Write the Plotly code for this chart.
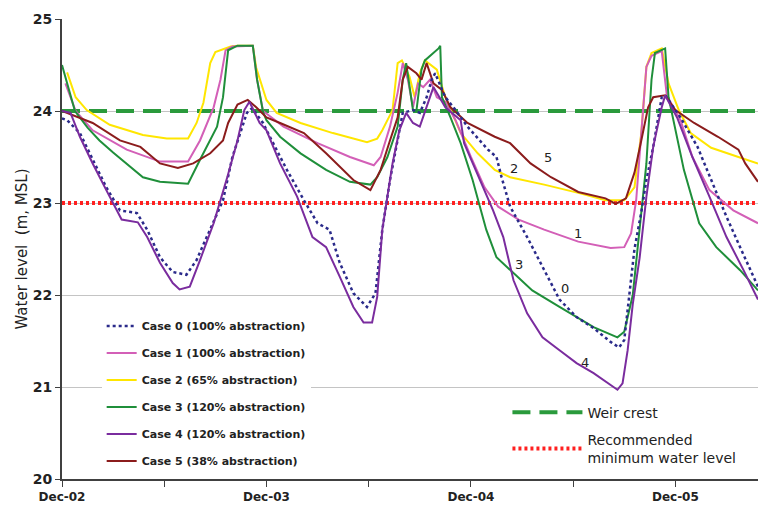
import plotly.graph_objects as go

# months since Dec-2002
c0_m = [0, 0.3, 1.05, 1.8, 2.6, 3.4, 4.4, 5.0, 5.75, 6.5, 7.3, 7.9, 8.7, 9.45, 10.0, 10.85, 11.15, 11.8, 12.2, 13.2, 14.2, 15.0, 15.7, 16.3, 17.1, 17.9, 18.4, 18.8, 19.25, 19.7, 20.0, 20.6, 21.0, 21.4, 21.7, 21.9, 22.5, 23.1, 23.8, 25.0, 25.5, 25.8, 26.3, 27.3, 28.2, 29.2, 30.2, 31.2, 32.2, 32.7, 33.0, 33.3, 33.6, 34.0, 34.3, 34.7, 35.2, 35.4, 36.3, 37.3, 38.2, 39.0, 39.8, 40.85]
c0_v = [23.92, 23.9, 23.76, 23.47, 23.17, 22.92, 22.89, 22.71, 22.41, 22.25, 22.22, 22.38, 22.71, 23.03, 23.5, 23.98, 24.03, 23.87, 23.72, 23.36, 23.03, 22.78, 22.71, 22.35, 22.02, 21.87, 22.02, 22.71, 23.25, 23.68, 23.98, 24.01, 23.98, 24.15, 24.34, 24.41, 24.15, 24.01, 23.83, 23.58, 23.5, 23.28, 22.96, 22.63, 22.3, 21.95, 21.76, 21.64, 21.49, 21.43, 21.51, 21.98, 22.5, 22.9, 23.25, 23.61, 24.15, 24.17, 23.93, 23.61, 23.21, 22.85, 22.52, 22.09]

c1_m = [0.2, 0.8, 1.8, 3.8, 5.75, 7.4, 8.1, 8.9, 9.3, 9.6, 10.0, 11.2, 11.45, 11.8, 13.0, 15.0, 16.9, 18.3, 18.7, 19.25, 19.7, 20.0, 20.3, 20.6, 20.9, 21.2, 21.6, 22.0, 22.5, 23.1, 24.0, 24.8, 25.6, 26.8, 28.3, 30.3, 32.2, 33.0, 33.4, 33.7, 34.0, 34.3, 34.6, 35.2, 35.5, 36.3, 37.0, 38.0, 39.4, 40.85]
c1_v = [24.3, 24.0, 23.79, 23.58, 23.45, 23.45, 23.68, 24.04, 24.34, 24.66, 24.7, 24.71, 24.34, 24.0, 23.83, 23.65, 23.5, 23.41, 23.5, 23.83, 24.2, 24.52, 24.34, 24.04, 24.3, 24.26, 24.34, 24.15, 24.1, 23.9, 23.5, 23.17, 22.96, 22.82, 22.71, 22.58, 22.51, 22.52, 22.67, 23.03, 23.76, 24.48, 24.6, 24.65, 24.17, 23.9, 23.5, 23.14, 22.92, 22.78]

c2_m = [0.3, 0.8, 1.45, 2.8, 4.75, 6.15, 7.4, 7.9, 8.3, 8.7, 9.0, 9.9, 10.3, 11.2, 11.4, 12.0, 12.6, 14.0, 15.9, 17.9, 18.5, 18.8, 19.4, 19.7, 19.95, 20.4, 20.7, 21.0, 21.3, 22.0, 22.5, 23.4, 24.4, 25.4, 26.3, 28.3, 30.3, 31.9, 33.0, 33.6, 34.0, 34.3, 34.6, 35.2, 35.6, 36.2, 36.9, 38.1, 39.7, 40.85]
c2_v = [24.42, 24.15, 24.01, 23.85, 23.74, 23.7, 23.7, 23.87, 24.09, 24.52, 24.64, 24.7, 24.71, 24.71, 24.47, 24.12, 23.98, 23.87, 23.76, 23.66, 23.7, 23.79, 24.01, 24.52, 24.55, 24.37, 24.15, 24.41, 24.55, 24.45, 24.15, 23.76, 23.54, 23.36, 23.28, 23.2, 23.11, 23.03, 23.03, 23.17, 23.76, 24.48, 24.63, 24.68, 24.3, 24.01, 23.76, 23.6, 23.5, 23.43]

c3_m = [0, 0.3, 0.76, 1.5, 2.2, 3.0, 3.8, 4.75, 5.75, 6.5, 7.4, 8.1, 8.6, 9.1, 9.45, 9.75, 10.3, 11.2, 11.45, 11.8, 12.0, 12.8, 14.0, 15.5, 16.9, 18.1, 18.5, 19.1, 19.7, 20.0, 20.2, 20.6, 20.8, 21.1, 21.3, 22.1, 22.2, 22.3, 22.8, 23.4, 24.1, 24.9, 25.5, 26.3, 27.6, 29.2, 31.2, 32.6, 33.0, 33.5, 33.9, 34.3, 34.6, 34.8, 35.4, 35.6, 36.5, 37.4, 38.4, 39.8, 40.85]
c3_v = [24.5, 24.3, 24.0, 23.82, 23.68, 23.55, 23.43, 23.28, 23.23, 23.22, 23.21, 23.47, 23.65, 23.83, 24.15, 24.66, 24.71, 24.71, 24.34, 23.99, 23.9, 23.72, 23.54, 23.36, 23.23, 23.2, 23.28, 23.5, 23.83, 24.34, 24.52, 24.01, 24.0, 24.45, 24.55, 24.68, 24.71, 24.15, 23.93, 23.65, 23.25, 22.71, 22.41, 22.27, 22.05, 21.87, 21.65, 21.54, 21.6, 22.0, 22.7, 23.43, 24.34, 24.63, 24.68, 24.15, 23.36, 22.78, 22.52, 22.27, 22.05]

c4_m = [0, 0.5, 1.05, 1.8, 2.6, 3.5, 4.45, 5.0, 5.75, 6.5, 6.9, 7.5, 8.1, 8.9, 9.7, 10.3, 10.7, 11.0, 11.6, 12.0, 12.8, 13.8, 14.7, 15.5, 16.3, 17.1, 17.7, 18.2, 18.5, 18.8, 19.4, 19.8, 20.2, 20.6, 21.0, 21.4, 21.8, 22.5, 23.4, 23.6, 24.4, 25.3, 25.9, 26.5, 27.3, 28.2, 29.2, 30.2, 31.2, 32.0, 32.6, 32.9, 33.2, 33.5, 33.9, 34.3, 34.7, 35.2, 35.4, 36.1, 37.0, 38.0, 39.0, 40.0, 40.85]
c4_v = [24.0, 23.98, 23.72, 23.43, 23.14, 22.82, 22.79, 22.63, 22.35, 22.13, 22.06, 22.09, 22.38, 22.78, 23.28, 23.68, 24.01, 24.1, 23.87, 23.79, 23.43, 23.07, 22.63, 22.52, 22.2, 21.87, 21.7, 21.7, 21.98, 22.71, 23.43, 23.79, 23.98, 23.87, 23.83, 24.04, 24.26, 24.04, 23.9, 23.65, 23.3, 22.92, 22.63, 22.16, 21.8, 21.54, 21.4, 21.26, 21.15, 21.05, 20.97, 21.04, 21.4, 21.9, 22.4, 23.07, 23.61, 24.04, 24.17, 23.93, 23.5, 23.07, 22.63, 22.27, 21.95]

c5_m = [0, 1.8, 3.4, 4.6, 5.75, 6.8, 7.7, 8.7, 9.45, 9.75, 10.3, 10.9, 11.4, 12.0, 12.8, 14.2, 15.5, 17.1, 18.1, 18.7, 19.25, 19.7, 20.0, 20.3, 20.8, 21.1, 21.4, 21.8, 22.3, 22.8, 23.8, 25.4, 26.3, 27.5, 28.7, 30.3, 31.9, 32.5, 33.1, 33.6, 34.0, 34.4, 34.7, 35.4, 36.0, 37.1, 38.5, 39.7, 40.1, 40.85]
c5_v = [24.0, 23.87, 23.68, 23.61, 23.43, 23.38, 23.43, 23.54, 23.68, 23.87, 24.07, 24.12, 24.04, 23.93, 23.87, 23.76, 23.54, 23.25, 23.14, 23.36, 23.68, 23.93, 24.34, 24.48, 24.41, 24.34, 24.52, 24.3, 24.23, 24.04, 23.87, 23.72, 23.65, 23.43, 23.28, 23.12, 23.05, 22.99, 23.05, 23.33, 23.68, 24.04, 24.15, 24.17, 24.01, 23.87, 23.72, 23.58, 23.43, 23.23]

series_names = ["Case 0 (100% abstraction)", "Case 1 (100% abstraction)", "Case 2 (65% abstraction)",
                "Case 3 (120% abstraction)", "Case 4 (120% abstraction)", "Case 5 (38% abstraction)"]
series_colors = ["#2a2a8a", "#d35fb7", "#ffe600", "#1f8f3a", "#7a2c9e", "#8b1c1c"]
series_x = [c0_m, c1_m, c2_m, c3_m, c4_m, c5_m]
series_y = [c0_v, c1_v, c2_v, c3_v, c4_v, c5_v]

weir_level = 24.0
min_level = 23.0
x_start, x_end = 0, 40.85

tick_vals = [0, 6, 12, 18, 24, 30, 36]
tick_text = ["Dec-02", "", "Dec-03", "", "Dec-04", "", "Dec-05"]

label_text = ["5", "2", "1", "3", "0", "4"]
label_x = [28.5, 26.5, 30.3, 26.8, 29.5, 30.7]
label_y = [23.5, 23.38, 22.67, 22.33, 22.07, 21.27]

fig = go.Figure()

# reference lines (legend 2)
fig.add_trace(go.Scatter(x=[x_start, x_end], y=[weir_level, weir_level], mode="lines",
                         name="Weir crest", line=dict(color="#2a9a3c", width=4, dash="18px,9px"),
                         legend="legend2", legendgroup="weir"))
fig.add_trace(go.Scatter(x=[x_start, x_end], y=[min_level, min_level], mode="lines",
                         name="Recommended<br>minimum water level",
                         line=dict(color="#ff2020", width=4, dash="3px,3px"), legend="legend2",
                         legendgroup="min"))

draw_order = [2, 1, 3, 5, 0, 4]
for i in draw_order:
    fig.add_trace(go.Scatter(x=series_x[i], y=series_y[i], mode="lines", name=series_names[i],
                             line=dict(color=series_colors[i], width=2.5 if i == 0 else 2,
                                       dash="dot" if i == 0 else "solid"),
                             legend="legend", legendrank=i, legendgroup="case%d" % i))

for t, xx, yy in zip(label_text, label_x, label_y):
    fig.add_annotation(x=xx, y=yy, text=t, showarrow=False,
                       font=dict(family="DejaVu Sans", size=13, color="#222"))

fig.update_layout(
    width=758, height=507,
    margin=dict(l=62, r=0, t=19, b=28),
    plot_bgcolor="white", paper_bgcolor="white",
    font=dict(family="DejaVu Sans", color="#222"),
    showlegend=True,
    legend=dict(x=0.057, y=0.364, xanchor="left", yanchor="top", bgcolor="white",
                font=dict(family="DejaVu Sans", size=11, weight="bold", color="#222"),
                tracegroupgap=8, traceorder="grouped"),
    legend2=dict(x=0.64, y=0.179, xanchor="left", yanchor="top", bgcolor="rgba(0,0,0,0)",
                 font=dict(family="DejaVu Sans", size=14, color="#222"),
                 tracegroupgap=6, traceorder="grouped", itemwidth=70),
    xaxis=dict(range=[x_start, x_end], tickvals=tick_vals, ticktext=tick_text,
               showgrid=False, zeroline=False, showline=True, linecolor="#404040", linewidth=2,
               ticks="outside", ticklen=6, tickcolor="#404040",
               tickfont=dict(family="DejaVu Sans", size=12, weight="bold", color="#222")),
    yaxis=dict(range=[20, 25], dtick=1, showgrid=True, gridcolor="#c4c4c4", gridwidth=1,
               zeroline=False, showline=True, linecolor="#404040", linewidth=2,
               ticks="outside", ticklen=5, tickcolor="#404040",
               tickfont=dict(family="DejaVu Sans", size=14, weight="bold", color="#222"),
               title=dict(text="Water level  (m, MSL)", standoff=1,
                          font=dict(family="DejaVu Sans", size=15, color="#222"))),
)

fig.write_html("out.html", config={"displayModeBar": False},
               post_script="document.body.style.margin='0';")
